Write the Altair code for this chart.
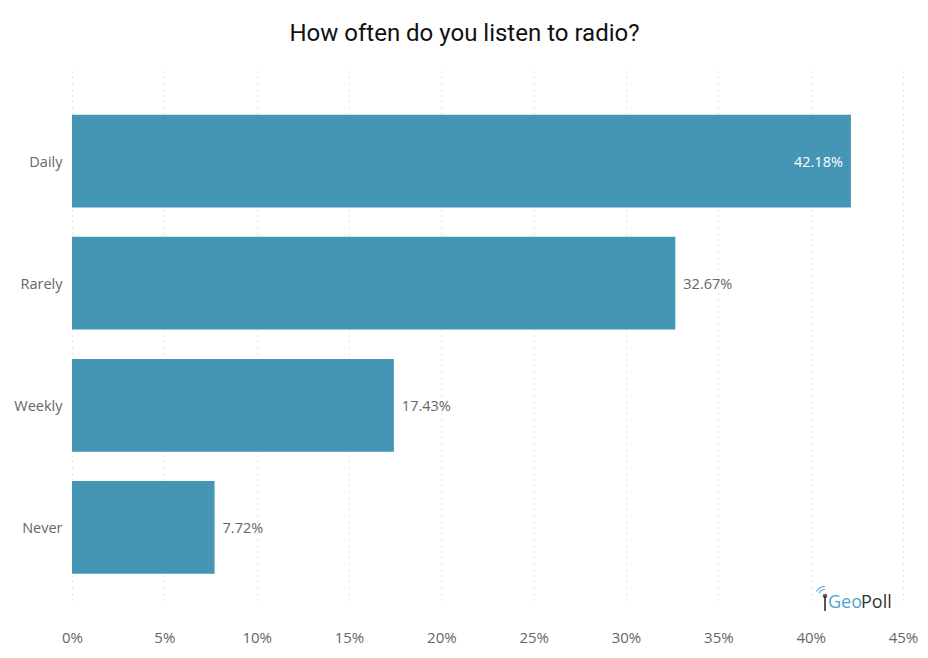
import altair as alt
import pandas as pd

categories = ["Daily", "Rarely", "Weekly", "Never"]
values = [0.4218, 0.3267, 0.1743, 0.0772]
tick_values = [0, 0.05, 0.10, 0.15, 0.20, 0.25, 0.30, 0.35, 0.40, 0.45]

df = pd.DataFrame({"cat": categories, "val": values})
df["label"] = [f"{v*100:.2f}%" for v in values]
df["inside"] = df["val"] > 0.4

BAR = "#4596b5"
TXT = "#666666"
FONT = "Open Sans"

x = alt.X("val:Q", scale=alt.Scale(domain=[0, 0.45], nice=False),
          axis=alt.Axis(values=tick_values, format=".0%", title=None, domain=False, ticks=False,
                        grid=True, gridDash=[1, 5], gridColor="#c8c8c8", gridWidth=1,
                        labelFlush=False, labelFont=FONT, labelFontSize=15, labelColor=TXT,
                        labelPadding=30))
y = alt.Y("cat:N", sort=categories,
          scale=alt.Scale(paddingInner=0.24, paddingOuter=0.3, align=0.64),
          axis=alt.Axis(title=None, domain=False, ticks=False, labelFont=FONT, labelFontSize=14.5,
                        labelColor=TXT, labelPadding=10, labelOffset=2))

bars = alt.Chart(df).mark_bar(color=BAR).encode(x=x, y=y)

lab_in = alt.Chart(df).transform_filter("datum.inside").mark_text(
    align="right", dx=-8, dy=2, color="white", font=FONT, fontSize=14.5).encode(
    x="val:Q", y=alt.Y("cat:N", sort=categories), text="label:N")
lab_out = alt.Chart(df).transform_filter("!datum.inside").mark_text(
    align="left", dx=8, dy=2, color=TXT, font=FONT, fontSize=14.5).encode(
    x="val:Q", y=alt.Y("cat:N", sort=categories), text="label:N")

logo_geo = alt.Chart(pd.DataFrame({"t": ["Geo"]})).mark_text(
    align="left", baseline="middle", font=FONT, fontSize=18, color="#4aa8cf").encode(
    x=alt.value(756), y=alt.value(535), text="t:N")
logo_poll = alt.Chart(pd.DataFrame({"t": ["Poll"]})).mark_text(
    align="left", baseline="middle", font=FONT, fontSize=18, color="#333333").encode(
    x=alt.value(789), y=alt.value(535), text="t:N")
logo_dot = alt.Chart(pd.DataFrame({"t": ["."]})).mark_point(
    filled=True, size=22, color="#222222").encode(x=alt.value(753), y=alt.value(528))
logo_stick = alt.Chart(pd.DataFrame({"t": ["."]})).mark_rule(color="#222222", strokeWidth=1.5).encode(
    x=alt.value(753), y=alt.value(528), y2=alt.value(543))
logo_wave = alt.Chart(pd.DataFrame({"t": ["."]})).mark_arc(
    radius=6, radius2=7, theta=5.2, theta2=6.28, color="#4aa8cf").encode(
    x=alt.value(753), y=alt.value(528))
logo_wave2 = alt.Chart(pd.DataFrame({"t": ["."]})).mark_arc(
    radius=9, radius2=10, theta=5.2, theta2=6.28, color="#4aa8cf").encode(
    x=alt.value(753), y=alt.value(528))

chart = alt.layer(bars, lab_in, lab_out, logo_geo, logo_poll, logo_stick, logo_wave, logo_wave2,
                  logo_dot).properties(
    width=831, height=532,
    autosize=alt.AutoSizeParams(type="none"),
    padding={"left": 64, "top": 60, "right": 17, "bottom": 50},
    title=alt.TitleParams("How often do you listen to radio?", font="Roboto", fontSize=24,
                          fontWeight="normal", color="#111111", anchor="middle", frame="group",
                          dx=-23, offset=22),
).configure_view(stroke=None)

chart.save("out.html", embed_options={"renderer": "svg", "actions": False})
